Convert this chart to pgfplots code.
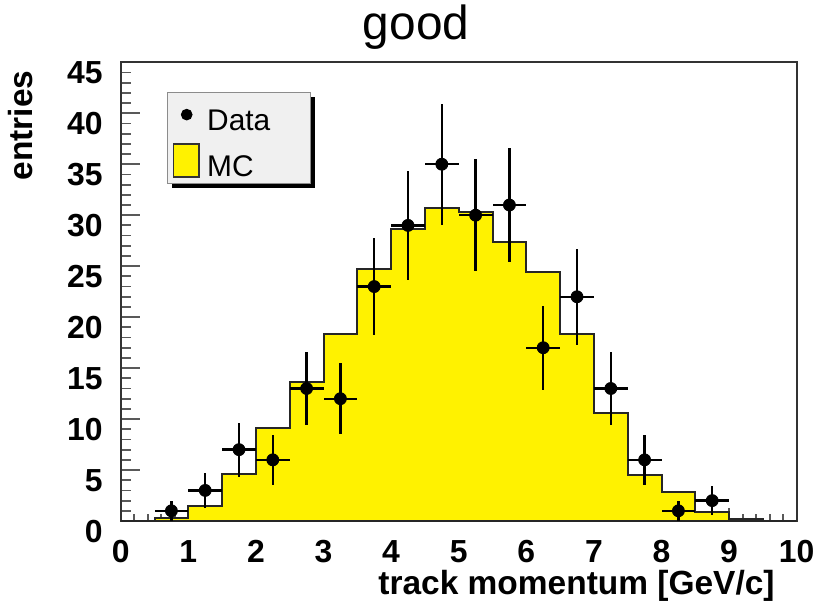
\documentclass[border=0pt]{standalone}
\usepackage{fontspec}
\setmainfont{Liberation Sans}
\usepackage{pgfplots}
\usepackage{pgfplotstable}
\pgfplotsset{compat=1.18}
\usetikzlibrary{backgrounds}

\pgfplotstableread{
x    y   ex    ey
0.75 1   0.25  1.000
1.25 3   0.25  1.732
1.75 7   0.25  2.646
2.25 6   0.25  2.449
2.75 13  0.25  3.606
3.25 12  0.25  3.464
3.75 23  0.25  4.796
4.25 29  0.25  5.385
4.75 35  0.25  5.916
5.25 30  0.25  5.477
5.75 31  0.25  5.568
6.25 17  0.25  4.123
6.75 22  0.25  4.690
7.25 13  0.25  3.606
7.75 6   0.25  2.449
8.25 1   0.25  1.000
8.75 2   0.25  1.414
}\datatable

\begin{document}
\begin{tikzpicture}
\useasboundingbox (-60.35bp,-42.5bp) rectangle (348.15bp,260.5bp);
\begin{axis}[
  at={(0,0)}, anchor=south west,
  scale only axis, width=338bp, height=229.35bp,
  xmin=0, xmax=10, ymin=0, ymax=45,
  xtick={0,1,...,10}, ytick={0,5,...,45},
  minor x tick num=4, minor y tick num=4,
  tick align=inside, tick pos=left,
  axis line style={black!80, line width=1bp},
  tick style={black!65, line width=0.9bp},
  xtick style={/pgfplots/major tick length=6.7bp,/pgfplots/minor tick length=3.3bp},
  ytick style={/pgfplots/major tick length=9.7bp,/pgfplots/minor tick length=5bp},
  /pgf/number format/assume math mode=true,
  ticklabel style={font=\fontsize{16}{19}\selectfont\bfseries},
  xticklabel style={anchor=north, inner sep=0pt, yshift=-9.5bp},
  yticklabel style={anchor=north east, inner sep=0pt, xshift=-8.85bp, yshift=0.5bp},
  title={good},
  title style={at={(axis description cs:0.437,1)}, anchor=base, yshift=5.5bp, font=\fontsize{24}{28}\selectfont},
  xlabel={track momentum [GeV/c]},
  xlabel style={at={(axis description cs:0.968,0)}, anchor=base east, inner sep=0pt, yshift=-36.5bp, font=\fontsize{16.8}{20}\selectfont\bfseries},
  ylabel={entries},
  ylabel style={at={(axis description cs:-0.131,0.983)}, anchor=base east, inner sep=0pt, font=\fontsize{16.8}{20}\selectfont\bfseries},
  legend style={name=leg, at={(axis description cs:0.0685,0.935)}, anchor=north west,
    draw=black!45, fill=black!6, line width=0.6bp,
    inner xsep=2.5bp, inner ysep=2.6bp, row sep=5.8bp, column sep=3.65bp,
    nodes={inner sep=0pt, text depth=0pt},
    font=\fontsize{15}{18}\selectfont},
  legend cell align=left,
]
\addlegendimage{legend image code/.code={
  \path[draw=none, fill=none] (0bp,-5.4bp) rectangle (12.85bp,11.3bp);
  \fill[black] (6.65bp,2.95bp) circle (2.6bp);}}
\addlegendentry{\makebox[49bp][l]{Data}}
\addlegendimage{legend image code/.code={
  \draw[fill=yellow, draw=black!80, line width=0.8bp] (0bp,-5.6bp) rectangle (12.85bp,11.1bp);}}
\addlegendentry{\makebox[49bp][l]{MC}}

\addplot[const plot, fill=yellow, draw=black!85, line width=1bp, forget plot] coordinates {
(0,0) (0.5,0.3) (1,1.5) (1.5,4.6) (2,9.1) (2.5,13.6) (3,18.3) (3.5,24.7) (4,28.6) (4.5,30.7)
(5,30.3) (5.5,27.4) (6,24.4) (6.5,18.3) (7,10.6) (7.5,4.5) (8,2.8) (8.5,0.85) (9,0.15) (9.5,0) (10,0)
} \closedcycle;

\addplot[only marks, mark=*, mark size=3bp, black, forget plot,
  error bars/.cd, x dir=both, x explicit, y dir=both, y explicit,
  error mark=none, error bar style={line width=1.15bp, black}]
  table[x=x, y=y, x error=ex, y error=ey] {\datatable};
\end{axis}
\begin{scope}[on background layer]
  \fill[black] ([xshift=2.25bp,yshift=-2.25bp]leg.south west) rectangle ([xshift=2.25bp,yshift=-2.25bp]leg.north east);
\end{scope}
\end{tikzpicture}
\end{document}
